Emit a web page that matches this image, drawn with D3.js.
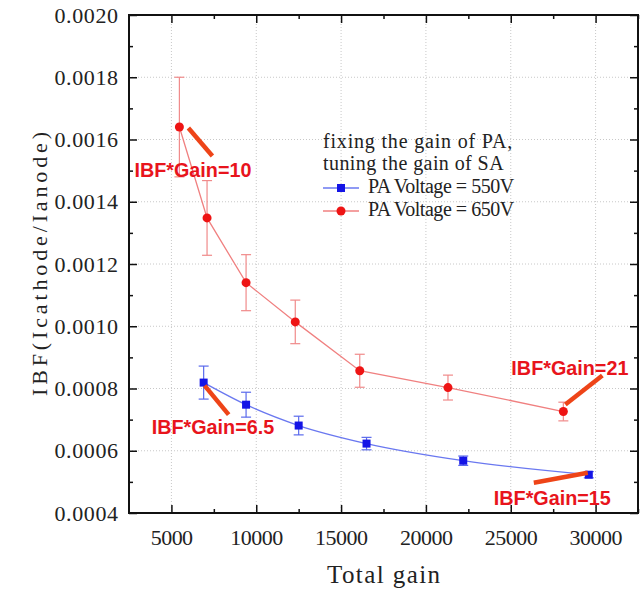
<!DOCTYPE html>
<html>
<head>
<meta charset="utf-8">
<script src="https://cdn.jsdelivr.net/npm/d3@7"></script>
<style>
body { margin: 0; background: #fff; }
</style>
</head>
<body>
<div id="chart"></div>
<script>
// values
var gain550 = [6900, 9400, 12500, 16500, 22200, 29600],
    ibf550  = [0.000819, 0.000748, 0.000681, 0.000623, 0.000568, 0.000523],
    err550  = [0.000053, 0.000040, 0.000030, 0.000020, 0.000015, 0.000010];

var gain650 = [5470, 7100, 9400, 12300, 16100, 21300, 28100],
    ibf650  = [0.00164, 0.001348, 0.00114, 0.001014, 0.000857, 0.000803, 0.000726],
    err650  = [0.00016, 0.00012, 0.00009, 0.00007, 0.000053, 0.00004, 0.00003];

var xTicks = [5000, 10000, 15000, 20000, 25000, 30000],
    xMinor = [7500, 12500, 17500, 22500, 27500, 32500],
    yTicks = [0.0004, 0.0006, 0.0008, 0.0010, 0.0012, 0.0014, 0.0016, 0.0018, 0.0020],
    yMinor = [0.0005, 0.0007, 0.0009, 0.0011, 0.0013, 0.0015, 0.0017, 0.0019];

var legendTitle = ["fixing the gain of PA,", "tuning the gain of SA"],
    seriesNames = ["PA Voltage = 550V", "PA Voltage = 650V"];

// notes: which series / point they point at
var notes = [
    {s: 1, i: 0, text: "IBF*Gain=10"},
    {s: 0, i: 0, text: "IBF*Gain=6.5"},
    {s: 1, i: 6, text: "IBF*Gain=21"},
    {s: 0, i: 5, text: "IBF*Gain=15"}
];

var W = 644, H = 590,
    m = {top: 15, right: 6, bottom: 77, left: 129},
    w = W - m.left - m.right,
    h = H - m.top - m.bottom;

var serif = "'Liberation Serif', 'Times New Roman', serif";

var series = [
    {gain: gain550, ibf: ibf550, err: err550, name: seriesNames[0],
     mark: "#1414e6", line: "#6a78f0", bar: "#5a6aec", shape: "square", curve: d3.curveMonotoneX},
    {gain: gain650, ibf: ibf650, err: err650, name: seriesNames[1],
     mark: "#ee1414", line: "#f08080", bar: "#f08a8a", shape: "circle", curve: d3.curveLinear}
];

var svg = d3.select("#chart").append("svg")
    .attr("width", W)
    .attr("height", H);

var g = svg.append("g").attr("transform", "translate(" + m.left + "," + m.top + ")");

var x = d3.scaleLinear().domain([2500, 32500]).range([0, w]),
    y = d3.scaleLinear().domain([0.0004, 0.0020]).range([h, 0]);

// text with the wide spacing of the original font
function spaced(sel, size, advance) {
    sel.attr("font-family", serif)
        .attr("font-size", size)
        .attr("fill", "#222")
        .attr("lengthAdjust", "spacing")
        .attr("textLength", function () { return this.textContent.length * advance; });
}

// dotted grid
g.append("g").selectAll("line").data(xTicks).enter().append("line")
    .attr("x1", d => x(d)).attr("x2", d => x(d))
    .attr("y1", 0).attr("y2", h)
    .attr("stroke", "#c8c8c8").attr("stroke-dasharray", "1,2");
g.append("g").selectAll("line").data(yTicks.slice(1, -1)).enter().append("line")
    .attr("x1", 0).attr("x2", w)
    .attr("y1", d => y(d)).attr("y2", d => y(d))
    .attr("stroke", "#c8c8c8").attr("stroke-dasharray", "1,2");

// axes, ticks inward on all four sides
function axis(gen, tx, ty, vals, size, labels) {
    var a = g.append("g").attr("transform", "translate(" + tx + "," + ty + ")")
        .call(gen.tickValues(vals).tickSizeInner(size).tickSizeOuter(0)
            .tickFormat(labels ? labels : ""));
    a.select(".domain").remove();
    a.selectAll(".tick line").attr("stroke", "#111").attr("stroke-width", 1.5);
    return a;
}

var bottom = axis(d3.axisBottom(x).tickPadding(16), 0, h, xTicks, -8, d3.format("d"));
axis(d3.axisBottom(x), 0, h, xMinor, -4);
axis(d3.axisTop(x), 0, 0, xTicks, -8);
axis(d3.axisTop(x), 0, 0, xMinor, -4);
var left = axis(d3.axisLeft(y).tickPadding(11), 0, 0, yTicks, -8, d3.format(".4f"));
axis(d3.axisLeft(y), 0, 0, yMinor, -4);
axis(d3.axisRight(y), w, 0, yTicks, -8);
axis(d3.axisRight(y), w, 0, yMinor, -4);

bottom.selectAll("text").call(spaced, 22, 10.6);
left.selectAll("text").call(spaced, 22, 10.6);

g.append("rect")
    .attr("width", w).attr("height", h)
    .attr("fill", "none").attr("stroke", "#111").attr("stroke-width", 2);

// axis titles
svg.append("text")
    .attr("x", m.left + w / 2).attr("y", H - 7)
    .attr("text-anchor", "middle")
    .text("Total gain")
    .call(spaced, 25, 11.3);

svg.append("text")
    .attr("transform", "translate(47," + (m.top + h / 2) + ") rotate(-90)")
    .attr("text-anchor", "middle")
    .text("IBF(Icathode/Ianode)")
    .call(spaced, 22, 13.2);

// series: error bars, line, markers
series.forEach(function (s) {
    var pts = s.gain.map((d, i) => ({gx: d, v: s.ibf[i], e: s.err[i]}));
    var sg = g.append("g");

    sg.append("path").datum(pts)
        .attr("fill", "none").attr("stroke", s.line).attr("stroke-width", 1.3)
        .attr("d", d3.line().x(d => x(d.gx)).y(d => y(d.v)).curve(s.curve));

    var eb = sg.selectAll(".err").data(pts).enter().append("g")
        .attr("stroke", s.bar).attr("stroke-width", 1.2);
    eb.append("line")
        .attr("x1", d => x(d.gx)).attr("x2", d => x(d.gx))
        .attr("y1", d => y(d.v + d.e)).attr("y2", d => y(d.v - d.e));
    eb.append("line")
        .attr("x1", d => x(d.gx) - 5).attr("x2", d => x(d.gx) + 5)
        .attr("y1", d => y(d.v + d.e)).attr("y2", d => y(d.v + d.e));
    eb.append("line")
        .attr("x1", d => x(d.gx) - 5).attr("x2", d => x(d.gx) + 5)
        .attr("y1", d => y(d.v - d.e)).attr("y2", d => y(d.v - d.e));

    if (s.shape == "circle") {
        sg.selectAll(".mk").data(pts).enter().append("circle")
            .attr("cx", d => x(d.gx)).attr("cy", d => y(d.v)).attr("r", 4.5)
            .attr("fill", s.mark);
    } else {
        sg.selectAll(".mk").data(pts).enter().append("rect")
            .attr("x", d => x(d.gx) - 4).attr("y", d => y(d.v) - 4)
            .attr("width", 8).attr("height", 8)
            .attr("fill", s.mark);
    }
});

// legend
var lg = g.append("g").attr("transform", "translate(" + (323 - m.left) + "," + (148 - m.top) + ")");
legendTitle.forEach(function (t, i) {
    lg.append("text").attr("x", 0).attr("y", i * 22).text(t).call(spaced, 20, 8.6);
});
series.forEach(function (s, i) {
    var ly = 40 + i * 23;
    lg.append("line").attr("x1", 0).attr("x2", 36).attr("y1", ly).attr("y2", ly)
        .attr("stroke", s.line).attr("stroke-width", 1.3);
    if (s.shape == "circle") {
        lg.append("circle").attr("cx", 18).attr("cy", ly).attr("r", 4.5).attr("fill", s.mark);
    } else {
        lg.append("rect").attr("x", 14).attr("y", ly - 4).attr("width", 8).attr("height", 8).attr("fill", s.mark);
    }
    lg.append("text").attr("x", 45).attr("y", ly + 5).text(s.name).call(spaced, 20, 8.6);
});

// annotations: offsets from the point they refer to
var noteLayout = [
    {line: [9, 1, 33, 29],   text: [-45, 50]},
    {line: [1, 3, 25, 32],   text: [-52, 51]},
    {line: [2, -7, 39, -36], text: [-52, -37]},
    {line: [-1, -2, -55, 8], text: [-95, 30]}
];
notes.forEach(function (n, k) {
    var s = series[n.s],
        px = x(s.gain[n.i]),
        py = y(s.ibf[n.i]),
        L = noteLayout[k];
    g.append("line")
        .attr("x1", px + L.line[0]).attr("y1", py + L.line[1])
        .attr("x2", px + L.line[2]).attr("y2", py + L.line[3])
        .attr("stroke", "#ee4418").attr("stroke-width", 4.5);
    g.append("text")
        .attr("x", px + L.text[0]).attr("y", py + L.text[1])
        .attr("font-family", "'Liberation Sans', Arial, sans-serif")
        .attr("font-weight", "bold").attr("font-size", 19.8)
        .attr("fill", "#e8141c")
        .text(n.text);
});
</script>
</body>
</html>
